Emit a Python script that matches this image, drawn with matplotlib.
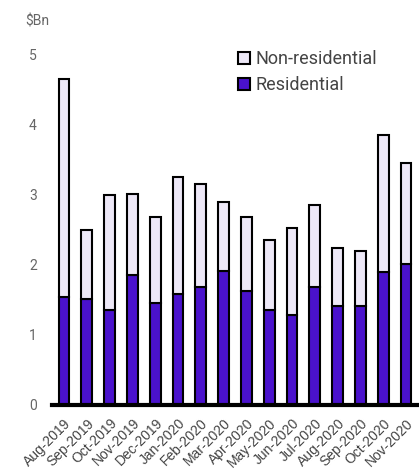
import matplotlib.pyplot as plt
import numpy as np

plt.rcParams["font.family"] = ["Roboto", "DejaVu Sans"]

# Monthly values, $Bn
months = [
    "Aug-2019", "Sep-2019", "Oct-2019", "Nov-2019", "Dec-2019", "Jan-2020",
    "Feb-2020", "Mar-2020", "Apr-2020", "May-2020", "Jun-2020", "Jul-2020",
    "Aug-2020", "Sep-2020", "Oct-2020", "Nov-2020",
]
residential = [1.54, 1.51, 1.36, 1.85, 1.45, 1.59, 1.69, 1.92,
               1.63, 1.35, 1.28, 1.68, 1.41, 1.41, 1.90, 2.01]
total = [4.66, 2.50, 3.00, 3.01, 2.69, 3.26, 3.15, 2.90,
         2.69, 2.36, 2.53, 2.85, 2.24, 2.20, 3.86, 3.45]
non_residential = [t - r for t, r in zip(total, residential)]

res_color = "#4A12CC"
nonres_color = "#EDE8F7"

fig = plt.figure(figsize=(4.19, 4.73), dpi=100)
ax = fig.add_axes([0.124, 0.1438, 0.871, 0.74])

x = np.arange(len(months))
width = 0.47
ax.bar(x, residential, width, color=res_color, edgecolor="black",
       linewidth=1.5, label="Residential")
ax.bar(x, non_residential, width, bottom=residential, color=nonres_color,
       edgecolor="black", linewidth=1.5, label="Non-residential")

ax.set_xlim(-0.53, len(months) - 0.52)
ax.set_ylim(0, 5)
ax.set_yticks([0, 1, 2, 3, 4, 5])
ax.set_xticks(x)
ax.set_xticklabels(months, rotation=45, ha="right", rotation_mode="anchor",
                   fontsize=10, color="#444444", family="Liberation Sans")
ax.tick_params(axis="y", length=0, labelsize=10, labelcolor="#666666", pad=11)
ax.tick_params(axis="x", length=0, pad=8)

for side in ["top", "right", "left"]:
    ax.spines[side].set_visible(False)
ax.spines["bottom"].set_linewidth(3)
ax.spines["bottom"].set_color("black")

fig.text(0.06, 0.955, "$Bn", fontsize=10, color="#666666", va="center")

handles, labels = ax.get_legend_handles_labels()
ax.legend(handles[::-1], labels[::-1], loc="upper left",
          bbox_to_anchor=(0.49, 1.035), frameon=False, fontsize=13,
          labelcolor="#444444", handlelength=0.65, handleheight=0.65,
          handletextpad=0.3, labelspacing=0.45, borderaxespad=0)

fig.savefig("out.png", dpi=100)
